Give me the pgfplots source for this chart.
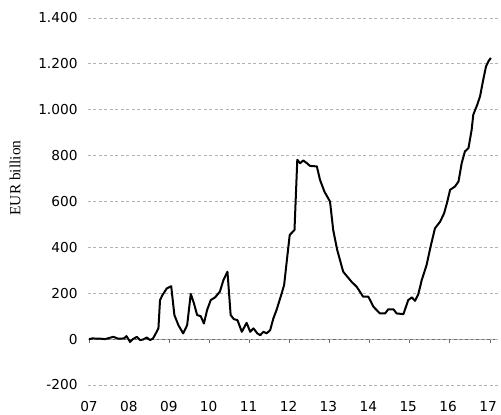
\documentclass[border=0pt]{standalone}
\usepackage{fontspec}
\setmainfont{DejaVu Sans}
\newfontfamily\seriffont{Liberation Serif}
\usepackage{pgfplots}
\pgfplotsset{compat=1.18}
\begin{document}
\begin{tikzpicture}
\useasboundingbox (-88bp,-30bp) rectangle (413bp,385bp);
% zero line with ticks
\begin{axis}[
  scale only axis, width=410bp, height=367bp,
  xmin=6.975, xmax=17.2, ymin=-200, ymax=1400,
  axis x line*=middle, axis y line=none,
  xtick={7,...,17}, xticklabels={}, ytick=\empty,
  tick align=outside, major tick length=4bp,
  every tick/.style={gray!85!black, line width=0.8bp},
  x axis line style={gray!85!black, line width=0.8bp},
]
\end{axis}
\begin{axis}[
  scale only axis, width=410bp, height=367bp,
  xmin=6.975, xmax=17.25, ymin=-200, ymax=1400,
  axis line style={draw=none},
  major tick length=0pt,
  xtick={7,...,17},
  xticklabels={07,08,09,10,11,12,13,14,15,16,17},
  ytick={-200,0,...,1400},
  ymajorgrids,
  grid style={gray!60, dash pattern=on 3bp off 2.5bp, line width=0.8bp},
  /pgf/number format/assume math mode=true,
  /pgf/number format/1000 sep={.},
  ticklabel style={font=\fontsize{13.7bp}{16bp}\selectfont},
  xticklabel style={yshift=-12.5bp},
  yticklabel style={xshift=-7bp},
  ylabel={EUR billion},
  ylabel style={font=\seriffont\fontsize{15.4bp}{18bp}\selectfont, at={(axis description cs:-0.178,0.564)}, anchor=center},
]
\addplot[black, line width=2bp, line join=round, mark=none] table {
x y
7.00 0
7.08 3
7.28 2
7.40 0
7.61 10
7.73 2
7.88 3
7.94 13
8.03 -12
8.10 0
8.20 10
8.28 -4
8.35 -2
8.45 7
8.53 -4
8.60 2
8.65 17
8.74 47
8.78 170
8.84 192
8.95 221
9.06 231
9.14 105
9.24 61
9.36 25
9.46 61
9.55 197
9.63 156
9.71 105
9.80 100
9.88 68
9.96 127
10.05 170
10.16 182
10.28 207
10.37 258
10.47 294
10.55 105
10.63 87
10.72 83
10.83 32
10.95 71
11.04 32
11.12 47
11.22 25
11.29 17
11.37 32
11.45 25
11.54 39
11.62 90
11.70 127
11.83 200
11.89 236
11.95 330
12.03 454
12.15 476
12.22 782
12.29 767
12.37 779
12.46 767
12.54 755
12.71 753
12.79 694
12.90 643
13.04 600
13.12 476
13.22 389
13.37 294
13.58 250
13.71 228
13.87 185
14.00 185
14.13 141
14.29 112
14.42 112
14.50 130
14.63 130
14.71 112
14.88 109
15.00 170
15.09 182
15.17 167
15.25 195
15.34 258
15.46 323
15.56 403
15.67 483
15.80 512
15.90 549
15.97 593
16.05 651
16.17 665
16.26 687
16.34 767
16.42 818
16.51 833
16.59 913
16.63 978
16.73 1022
16.80 1058
16.88 1131
16.95 1189
17.01 1211
17.07 1226
};
\end{axis}
\end{tikzpicture}
\end{document}
